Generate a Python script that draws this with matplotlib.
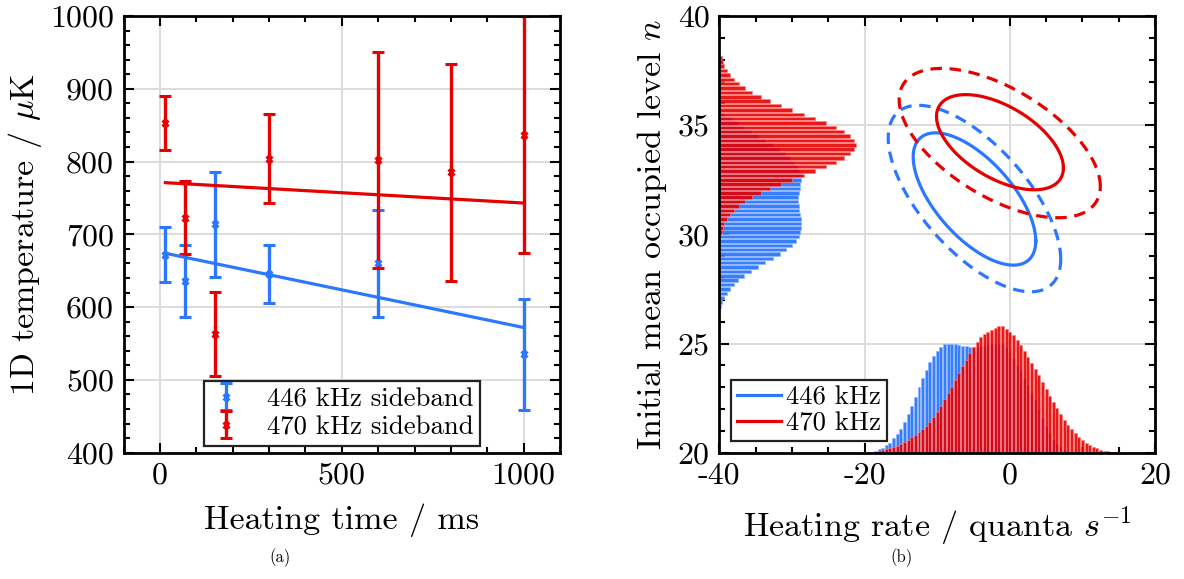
import numpy as np
import matplotlib
matplotlib.use("Agg")
import matplotlib.pyplot as plt

plt.rcParams['font.family'] = ['cmr10', 'DejaVu Serif']
plt.rcParams['mathtext.fontset'] = 'cm'
plt.rcParams['axes.unicode_minus'] = False
plt.rcParams['axes.formatter.use_mathtext'] = False

BLUE = '#2C77FF'
RED = '#E60000'
GRID = '#dcdcdc'

# (a) temperature vs heating time
time_ms = [15, 70, 150, 300, 600, 1000]
temp_446 = [672, 636, 714, 646, 660, 535]
err_446 = [38, 50, 72, 40, 73, 76]
time_470 = [15, 70, 150, 300, 600, 800, 1000]
temp_470 = [853, 723, 563, 804, 802, 785, 837]
err_470 = [37, 50, 58, 61, 148, 149, 163]
fit_x = [15, 1000]
fit_446 = [674, 572]
fit_470 = [771, 743]

# (b) histograms of initial n (bins of 0.2), widths in axis units from -40
n_start_446 = 26.7
hist_n_446 = [0.18, 0.37, 0.69, 1.01, 1.42, 1.97, 2.61, 3.39, 4.31, 5.28, 6.28, 7.34,
              8.30, 9.22, 9.95, 10.50, 10.92, 11.15, 11.24, 11.24, 11.19, 11.10, 11.01,
              10.92, 10.87, 10.87, 10.96, 11.06, 11.15, 11.24, 11.19, 11.01, 10.73, 10.32,
              9.77, 9.08, 8.26, 7.34, 6.33, 5.37, 4.36, 3.44, 2.52, 1.61, 0.69]
n_start_470 = 30.1
hist_n_470 = [0.37, 0.55, 0.69, 1.01, 1.47, 2.02, 2.71, 3.53, 4.54, 5.69, 7.02, 8.53,
              10.05, 11.61, 13.21, 14.72, 16.06, 17.20, 18.03, 18.58, 18.76, 18.58, 18.03,
              17.20, 16.06, 14.72, 13.21, 11.65, 10.05, 8.53, 7.02, 5.69, 4.54, 3.53, 2.66,
              2.02, 1.47, 1.01, 0.69, 0.55, 0.37]
n_step = 0.2

# histograms of heating rate (bins of 0.5), heights in axis units above 20
r_start_446 = -18.5
hist_r_446 = [0.09, 0.15, 0.23, 0.35, 0.46, 0.66, 0.85, 1.08, 1.42, 1.77, 2.14, 2.56, 2.99,
              3.40, 3.79, 4.14, 4.43, 4.67, 4.85, 4.96, 5.00, 5.00, 4.98, 4.93, 4.90, 4.87,
              4.85, 4.85, 4.86, 4.88, 4.90, 4.93, 4.96, 4.98, 5.00, 4.98, 4.85, 4.60, 4.35,
              4.00, 3.75, 3.40, 3.10, 2.75, 2.40, 2.00, 1.60, 1.20, 0.90, 0.60, 0.40, 0.25, 0.12]
r_start_470 = -18.0
hist_r_470 = [0.08, 0.12, 0.15, 0.20, 0.24, 0.32, 0.40, 0.47, 0.58, 0.70, 0.82, 0.96, 1.10,
              1.22, 1.42, 1.62, 1.86, 2.14, 2.44, 2.72, 2.99, 3.33, 3.66, 3.98, 4.24, 4.55,
              4.82, 5.05, 5.28, 5.44, 5.54, 5.62, 5.70, 5.78, 5.78, 5.68, 5.55, 5.38, 5.15,
              4.92, 4.66, 4.40, 4.12, 3.84, 3.54, 3.22, 2.90, 2.60, 2.32, 2.05, 1.78, 1.52,
              1.28, 1.07, 0.88, 0.72, 0.58, 0.45, 0.35, 0.26, 0.20, 0.14, 0.10, 0.07, 0.05,
              0.04, 0.02]
r_step = 0.5

# confidence ellipses: centre (rate, n), half extents, correlation
ell_446 = [(-4.86, 31.62, 8.44, 3.03, -0.635, '-'), (-4.86, 31.64, 11.88, 4.27, -0.65, '--')]
ell_470 = [(-1.35, 34.22, 8.74, 2.18, -0.54, '-'), (-1.38, 34.18, 13.85, 3.42, -0.58, '--')]

fig = plt.figure(figsize=(11.84, 5.79), dpi=100)
ax1 = fig.add_axes([123.6 / 1184, 126.3 / 579, 436.4 / 1184, 436.7 / 579])
ax2 = fig.add_axes([719.3 / 1184, 126.3 / 579, 435.7 / 1184, 436.7 / 579])


def style_axes(ax):
    ax.grid(True, which='major', color=GRID, linewidth=1.4)
    ax.set_axisbelow(True)
    for s in ax.spines.values():
        s.set_linewidth(2.0)
    ax.tick_params(which='both', direction='in', top=True, right=True, width=1.5,
                   labelsize=23, pad=7)
    ax.tick_params(which='major', length=7.5)
    ax.tick_params(which='minor', length=4.5)


# ---- panel (a)
ax1.errorbar(time_ms, temp_446, yerr=err_446, fmt='x', color=BLUE, ms=4.5, mew=2.2,
             elinewidth=2.4, capsize=4.2, capthick=2.4, label='446 kHz sideband')
ax1.errorbar(time_470, temp_470, yerr=err_470, fmt='x', color=RED, ms=4.5, mew=2.2,
             elinewidth=2.4, capsize=4.2, capthick=2.4, label='470 kHz sideband')
ax1.plot(fit_x, fit_446, color=BLUE, lw=2.3)
ax1.plot(fit_x, fit_470, color=RED, lw=2.3)
ax1.set_xlim(-100, 1100)
ax1.set_ylim(400, 1000)
ax1.set_xticks([0, 500, 1000])
ax1.set_xticks(np.arange(-100, 1101, 100), minor=True)
ax1.set_yticks(np.arange(400, 1001, 100))
ax1.set_yticks(np.arange(400, 1001, 20), minor=True)
style_axes(ax1)
ax1.set_xlabel('Heating time / ms', fontsize=24.5, labelpad=10)
ax1.set_ylabel(r'1D temperature / $\mu$K', fontsize=24.5, labelpad=4)
leg1 = ax1.legend(loc='lower center', bbox_to_anchor=(0.5, 0.016), borderaxespad=0,
                  fontsize=19.3, fancybox=False, framealpha=1, edgecolor='#222222',
                  handlelength=1.2, borderpad=0.25, labelspacing=0.15, handletextpad=0.9)
leg1.get_frame().set_linewidth(1.6)

# ---- panel (b)
nc446 = n_start_446 + n_step * np.arange(len(hist_n_446))
nc470 = n_start_470 + n_step * np.arange(len(hist_n_470))
ax2.barh(nc446, hist_n_446, height=n_step * 0.8, left=-40, color=BLUE, alpha=0.95,
         edgecolor='#8fb5ff', linewidth=0.5)
ax2.barh(nc470, hist_n_470, height=n_step * 0.8, left=-40, color=RED, alpha=0.9,
         edgecolor='#ff8080', linewidth=0.5)

rc446 = r_start_446 + r_step * np.arange(len(hist_r_446))
rc470 = r_start_470 + r_step * np.arange(len(hist_r_470))
ax2.bar(rc446, hist_r_446, width=r_step * 0.82, bottom=20, color=BLUE, alpha=0.95,
        edgecolor='#8fb5ff', linewidth=0.5)
ax2.bar(rc470, hist_r_470, width=r_step * 0.82, bottom=20, color=RED, alpha=0.9,
        edgecolor='#ff8080', linewidth=0.5)

t = np.linspace(0, 2 * np.pi, 300)
for ells, col, lab in [(ell_446, BLUE, '446 kHz'), (ell_470, RED, '470 kHz')]:
    for i, (cx, cy, a, b, rho, ls) in enumerate(ells):
        ex = cx + a * np.cos(t)
        ey = cy + b * (rho * np.cos(t) + np.sqrt(1 - rho ** 2) * np.sin(t))
        kw = dict(dashes=(3.6, 2.4)) if ls == '--' else {}
        ax2.plot(ex, ey, color=col, lw=2.3, label=lab if i == 0 else None, **kw)

ax2.set_xlim(-40, 20)
ax2.set_ylim(20, 40)
ax2.set_xticks([-40, -20, 0, 20])
ax2.set_xticks(np.arange(-40, 21, 5), minor=True)
ax2.set_yticks([20, 25, 30, 35, 40])
ax2.set_yticks(np.arange(20, 41, 1), minor=True)
style_axes(ax2)
ax2.set_xlabel(r'Heating rate / quanta $s^{-1}$', fontsize=24.5, labelpad=10)
ax2.set_ylabel(r'Initial mean occupied level $n$', fontsize=24.5, labelpad=6)
leg2 = ax2.legend(loc='lower left', bbox_to_anchor=(0.028, 0.027), borderaxespad=0,
                  fontsize=19.3, fancybox=False, framealpha=1, edgecolor='#222222',
                  handlelength=1.65, borderpad=0.2, labelspacing=0.1, handletextpad=0.2)
leg2.get_frame().set_linewidth(1.6)

fig.text(280 / 1184, 1 - 558 / 579, '(a)', ha='center', va='center', fontsize=12)
fig.text(902 / 1184, 1 - 558 / 579, '(b)', ha='center', va='center', fontsize=12)

fig.savefig('out.png', dpi=100)
